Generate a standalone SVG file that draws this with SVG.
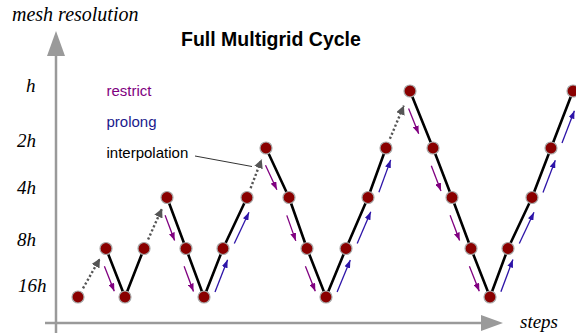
<svg xmlns="http://www.w3.org/2000/svg" width="576" height="336" viewBox="0 0 576 336">
<style>
.axis{stroke:#9a9a9a;stroke-width:2.5;fill:none}
.axhead{fill:#9a9a9a}
.lvl{font-family:"Liberation Serif","Times New Roman",serif;font-style:italic;font-size:19px;fill:#000}
.title{font-family:"Liberation Sans",Arial,sans-serif;font-weight:bold;font-size:19.5px;fill:#000}
.leg{font-family:"Liberation Sans",Arial,sans-serif;font-size:15px}
.edge{stroke:#000;stroke-width:2.6;fill:none;stroke-linejoin:round}
.interp{stroke:#555;stroke-width:2.4;stroke-dasharray:2.2 2.2;fill:none;marker-end:url(#ahDot)}
.restrict{stroke:#800080;stroke-width:1.3;fill:none;marker-end:url(#ahR)}
.prolong{stroke:#2d14a8;stroke-width:1.3;fill:none;marker-end:url(#ahP)}
.node circle{fill:#8a0000;stroke:#a8a8a8;stroke-width:1.2}
</style>
<defs>
<marker id="ahDot" markerUnits="userSpaceOnUse" viewBox="0 0 9 9" markerWidth="9" markerHeight="9" refX="9" refY="4.5" orient="auto"><path d="M0,0 L9,4.5 L0,9 z" fill="#555"/></marker>
<marker id="ahR" markerUnits="userSpaceOnUse" viewBox="0 0 8 6" markerWidth="8" markerHeight="6" refX="8" refY="3" orient="auto"><path d="M0,0 L8,3 L0,6 z" fill="#800080"/></marker>
<marker id="ahP" markerUnits="userSpaceOnUse" viewBox="0 0 8 6" markerWidth="8" markerHeight="6" refX="8" refY="3" orient="auto"><path d="M0,0 L8,3 L0,6 z" fill="#2d14a8"/></marker>
</defs>
<rect width="576" height="336" fill="#fff"/>
<g id="axes">
<line class="axis" x1="56" y1="333" x2="56" y2="54"/>
<polygon class="axhead" points="56,31 47,56 65,56"/>
<line class="axis" x1="45" y1="323" x2="484" y2="323"/>
<polygon class="axhead" points="503,323 481,315 481,331"/>
<text class="lvl" x="12" y="21" style="font-size:20px">mesh resolution</text>
<text class="lvl" x="520" y="328">steps</text>
<text class="lvl" x="26" y="92">h</text>
<text class="lvl" x="17" y="147">2h</text>
<text class="lvl" x="17" y="194">4h</text>
<text class="lvl" x="17" y="246">8h</text>
<text class="lvl" x="18" y="292">16h</text>
</g>
<text class="title" x="181" y="46">Full Multigrid Cycle</text>
<g id="legend">
<text class="leg" x="106.5" y="96" fill="#800080">restrict</text>
<text class="leg" x="106.5" y="126.5" fill="#1a1a8c">prolong</text>
<text class="leg" x="106.5" y="157.5" fill="#000">interpolation</text>
<line x1="195" y1="156" x2="252" y2="166.5" stroke="#333" stroke-width="1"/>
</g>
<g id="connectors">
<polyline class="edge" points="106,248.5 125,297 144,248.5"/>
<polyline class="edge" points="167,197.5 186,248.5 204,297 223,248.5 247,197.5"/>
<polyline class="edge" points="266,148 289,197.5 307,248.5 326,297 346,248.5 368,197.5 386,148"/>
<polyline class="edge" points="410,91 433,148 452,197.5 471,248.5 490,297 508,248.5 532,197.5 551,148 573,91"/>
<line class="interp" x1="83" y1="288.3" x2="100" y2="258.4"/>
<line class="interp" x1="148.1" y1="239.4" x2="162.1" y2="208.4"/>
<line class="interp" x1="250.6" y1="188.2" x2="261.7" y2="159.2"/>
<line class="interp" x1="389.9" y1="138.8" x2="403.9" y2="105.6"/>
<line class="restrict" x1="104.4" y1="266.2" x2="114.3" y2="291.3"/>
<line class="restrict" x1="165.1" y1="215.3" x2="174.6" y2="240.6"/>
<line class="restrict" x1="184.1" y1="266.3" x2="193.5" y2="291.6"/>
<line class="restrict" x1="265.5" y1="165.2" x2="276.9" y2="189.7"/>
<line class="restrict" x1="286.8" y1="215.4" x2="295.8" y2="240.9"/>
<line class="restrict" x1="305.4" y1="266.2" x2="315.3" y2="291.3"/>
<line class="restrict" x1="408.6" y1="108.6" x2="418.7" y2="133.7"/>
<line class="restrict" x1="431.3" y1="165.7" x2="441" y2="191"/>
<line class="restrict" x1="450.1" y1="215.3" x2="459.6" y2="240.6"/>
<line class="restrict" x1="469.4" y1="266.2" x2="479.3" y2="291.3"/>
<line class="prolong" x1="215" y1="291.9" x2="227.6" y2="259.8"/>
<line class="prolong" x1="234.3" y1="243.5" x2="249" y2="212.3"/>
<line class="prolong" x1="337.1" y1="291.9" x2="350.3" y2="260"/>
<line class="prolong" x1="357.2" y1="243.5" x2="370.8" y2="211.8"/>
<line class="prolong" x1="378.9" y1="192.3" x2="390.7" y2="159.9"/>
<line class="prolong" x1="500.9" y1="291.8" x2="512.9" y2="259.5"/>
<line class="prolong" x1="519.3" y1="243.5" x2="534" y2="212.3"/>
<line class="prolong" x1="543" y1="192.4" x2="555.3" y2="160.2"/>
<line class="prolong" x1="562" y1="142.9" x2="574.4" y2="110.7"/>
</g>
<g id="n1" class="node"><circle cx="78" cy="297" r="6"/></g>
<g id="n2" class="node"><circle cx="106" cy="248.5" r="6"/></g>
<g id="n3" class="node"><circle cx="125" cy="297" r="6"/></g>
<g id="n4" class="node"><circle cx="144" cy="248.5" r="6"/></g>
<g id="n5" class="node"><circle cx="167" cy="197.5" r="6"/></g>
<g id="n6" class="node"><circle cx="186" cy="248.5" r="6"/></g>
<g id="n7" class="node"><circle cx="204" cy="297" r="6"/></g>
<g id="n8" class="node"><circle cx="223" cy="248.5" r="6"/></g>
<g id="n9" class="node"><circle cx="247" cy="197.5" r="6"/></g>
<g id="n10" class="node"><circle cx="266" cy="148" r="6"/></g>
<g id="n11" class="node"><circle cx="289" cy="197.5" r="6"/></g>
<g id="n12" class="node"><circle cx="307" cy="248.5" r="6"/></g>
<g id="n13" class="node"><circle cx="326" cy="297" r="6"/></g>
<g id="n14" class="node"><circle cx="346" cy="248.5" r="6"/></g>
<g id="n15" class="node"><circle cx="368" cy="197.5" r="6"/></g>
<g id="n16" class="node"><circle cx="386" cy="148" r="6"/></g>
<g id="n17" class="node"><circle cx="410" cy="91" r="6"/></g>
<g id="n18" class="node"><circle cx="433" cy="148" r="6"/></g>
<g id="n19" class="node"><circle cx="452" cy="197.5" r="6"/></g>
<g id="n20" class="node"><circle cx="471" cy="248.5" r="6"/></g>
<g id="n21" class="node"><circle cx="490" cy="297" r="6"/></g>
<g id="n22" class="node"><circle cx="508" cy="248.5" r="6"/></g>
<g id="n23" class="node"><circle cx="532" cy="197.5" r="6"/></g>
<g id="n24" class="node"><circle cx="551" cy="148" r="6"/></g>
<g id="n25" class="node"><circle cx="573" cy="91" r="6"/></g>
</svg>
